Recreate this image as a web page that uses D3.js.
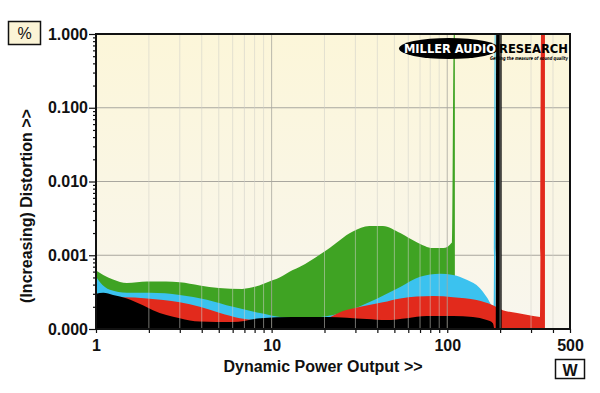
<!DOCTYPE html>
<html><head><meta charset="utf-8">
<script src="https://cdn.jsdelivr.net/npm/d3@7"></script>
<style>
html,body{margin:0;padding:0;background:#fff;}
svg{display:block;font-family:"Liberation Sans",Arial,sans-serif;}
</style></head>
<body><svg id="c" width="600" height="393"></svg>
<script>
// ---- data (power in W, distortion in %) ----
const greenW   = [1,1.1,1.25,1.5,1.95,2.5,3.0,3.9,5.0,6.8,8.5,10.2,11.1,13.2,14.5,20.6,29,36,43,54,67,83,95,106.5,109,110.5];
const greenPct = [0.00062,0.00054,0.00047,0.00042,0.00044,0.00044,0.00043,0.00039,0.00036,0.00035,0.00039,0.00046,0.0005,0.00063,0.0007,0.00118,0.0021,0.0025,0.0025,0.002,0.0015,0.00125,0.00125,0.0015,1,1];

const cyanW   = [1,1.054,1.2,1.5,2.03,3.0,4.28,6.03,8.58,11.2,14.5,22.4,29,40,54,70,91,108,130,153,168,184,186.5,188.5];
const cyanPct = [0.00051,0.00043,0.00034,0.00031,0.00031,0.00029,0.00025,0.0002,0.000165,0.000146,0.00014,0.000155,0.000187,0.00026,0.00037,0.00051,0.00056,0.00054,0.00046,0.00036,0.00027,0.0002,1,1];

const redW   = [1,1.42,1.95,3.0,3.9,5.08,6.6,7.84,9.8,14.5,20.6,25.5,32,43,54,83,108,147,182,207,250,309,338,342,360];
const redPct = [0.00025,0.00027,0.00026,0.00023,0.0002,0.000165,0.00014,0.000132,0.000128,0.000128,0.00014,0.000175,0.0002,0.00023,0.00026,0.00028,0.00027,0.000247,0.00021,0.00018,0.000165,0.00015,0.000146,1,1];

const blackW   = [1,1.1,1.25,1.5,1.85,2.11,3.0,3.9,6.0,8.6,13.2,20.6,34.8,45,59,76.5,108,140,168,182,186,189,190,204];
const blackPct = [0.0003,0.00031,0.00029,0.00026,0.00021,0.00018,0.00014,0.000126,0.000124,0.00014,0.000146,0.000146,0.000137,0.000132,0.00014,0.00015,0.00015,0.000146,0.000132,0.00012,0.0001,0.0001,1,1];

const xTickVals   = [1,10,100,500];
const xTickLabels = ["1","10","100","500"];
const yTickVals   = [1,0.1,0.01,0.001,0.0001];
const yTickLabels = ["1.000","0.100","0.010","0.001","0.000"];

const xTitle = "Dynamic Power Output >>";
const yTitle = "(Increasing) Distortion >>";
const yUnit = "%";
const xUnit = "W";

// ---- layout ----
const L = 96, R = 570, T = 34, B = 329;
const svg = d3.select("#c");
const x = d3.scaleLog().domain([1,500]).range([L,R]);
const y = d3.scaleLog().domain([0.0001,1]).range([B,T]).clamp(true);

// background gradient
const defs = svg.append("defs");
const grad = defs.append("linearGradient").attr("id","bg").attr("x1",0).attr("y1",0).attr("x2",0).attr("y2",1);
grad.append("stop").attr("offset","0%").attr("stop-color","#fcf6d9");
grad.append("stop").attr("offset","100%").attr("stop-color","#f8f6ee");
defs.append("clipPath").attr("id","clip").append("rect").attr("x",L).attr("y",T).attr("width",R-L).attr("height",B-T);

svg.append("rect").attr("x",L).attr("y",T).attr("width",R-L).attr("height",B-T).attr("fill","url(#bg)");

// minor values
const minorX = [];
[1,10,100].forEach(d=>{for(let k=2;k<=9;k++){const v=d*k; if(v<500) minorX.push(v);}});
const minorY = [];
[0.0001,0.001,0.01,0.1].forEach(d=>{for(let k=2;k<=9;k++) minorY.push(d*k);});

// horizontal major grid
svg.append("g").selectAll("line").data(yTickVals.slice(1,4)).join("line")
  .attr("x1",L).attr("x2",R).attr("y1",d=>y(d)).attr("y2",d=>y(d))
  .attr("stroke","#a9a79f").attr("stroke-width",1);

// areas
const plot = svg.append("g").attr("clip-path","url(#clip)");
function drawArea(ws, ps, color){
  const pts = ws.map((w,i)=>[w, ps[i]]);
  const area = d3.area().x(d=>x(d[0])).y0(B).y1(d=>y(d[1])).curve(d3.curveMonotoneX);
  plot.append("path").datum(pts).attr("d",area).attr("fill",color);
}
drawArea(greenW, greenPct, "#3fa323");
drawArea(cyanW, cyanPct, "#3bc2ef");
drawArea(redW, redPct, "#e22a1c");
drawArea(blackW, blackPct, "#000000");

// vertical grid (semi-transparent, over areas)
svg.append("g").selectAll("line").data(minorX).join("line")
  .attr("x1",d=>x(d)).attr("x2",d=>x(d)).attr("y1",T).attr("y2",B)
  .attr("stroke","#d0cfc8").attr("stroke-opacity",0.55).attr("stroke-width",1);
svg.append("g").selectAll("line").data([10,100]).join("line")
  .attr("x1",d=>x(d)).attr("x2",d=>x(d)).attr("y1",T).attr("y2",B)
  .attr("stroke","#a9a79f").attr("stroke-opacity",0.8).attr("stroke-width",1);

// frame
svg.append("rect").attr("x",L).attr("y",T).attr("width",R-L).attr("height",B-T)
  .attr("fill","none").attr("stroke","#111").attr("stroke-width",2);

// axes
const yAxis = d3.axisLeft(y).tickValues(yTickVals).tickFormat((d,i)=>yTickLabels[i]).tickSize(7).tickPadding(1);
const gy = svg.append("g").attr("transform",`translate(${L},0)`).call(yAxis);
const gyMinor = svg.append("g").attr("transform",`translate(${L},0)`).call(d3.axisLeft(y).tickValues(minorY).tickFormat("").tickSize(3));
const xAxis = d3.axisBottom(x).tickValues(xTickVals).tickFormat((d,i)=>xTickLabels[i]).tickSize(4).tickPadding(7);
const gx = svg.append("g").attr("transform",`translate(0,${B})`).call(xAxis);
const gxMinor = svg.append("g").attr("transform",`translate(0,${B})`).call(d3.axisBottom(x).tickValues(minorX).tickFormat("").tickSize(4));
[gy,gyMinor,gx,gxMinor].forEach(g=>{
  g.select(".domain").remove();
  g.selectAll("line").attr("stroke","#111").attr("stroke-width",1.2);
  g.selectAll("text").attr("fill","#111").attr("font-size",16).attr("font-weight","bold")
   .attr("font-family","'Liberation Sans',Arial,sans-serif");
});

// titles
svg.append("text").attr("x",323).attr("y",372).attr("text-anchor","middle")
  .attr("font-size",16).attr("font-weight","bold").attr("fill","#111").text(xTitle);
svg.append("text").attr("transform","translate(32,206) rotate(-90)").attr("text-anchor","middle")
  .attr("font-size",16).attr("font-weight","bold").attr("fill","#111").text(yTitle);

// unit boxes
svg.append("rect").attr("x",8.5).attr("y",21.5).attr("width",32).attr("height",23)
  .attr("fill","#fbf4d6").attr("stroke","#111").attr("stroke-width",1.5);
svg.append("text").attr("x",24.5).attr("y",39).attr("text-anchor","middle")
  .attr("font-size",16).attr("fill","#111").text(yUnit);
svg.append("rect").attr("x",555.5).attr("y",359.5).attr("width",29).attr("height",19)
  .attr("fill","#fff").attr("stroke","#111").attr("stroke-width",1.5);
svg.append("text").attr("x",570).attr("y",375.5).attr("text-anchor","middle")
  .attr("font-size",16).attr("font-weight","bold").attr("fill","#111").text(xUnit);

// logo
const logo = svg.append("g").attr("font-family","'DejaVu Sans',sans-serif");
logo.append("ellipse").attr("cx",449).attr("cy",48.5).attr("rx",50).attr("ry",10.5).attr("fill","#000");
logo.append("text").attr("x",404).attr("y",52.5).attr("font-size",12).attr("font-weight","bold")
  .attr("fill","#fff").attr("textLength",92).attr("lengthAdjust","spacingAndGlyphs").text("MILLER AUDIO");
logo.append("text").attr("x",499).attr("y",52.5).attr("font-size",12).attr("font-weight","bold")
  .attr("fill","#000").attr("textLength",69).attr("lengthAdjust","spacingAndGlyphs").text("RESEARCH");
logo.append("text").attr("x",490).attr("y",60).attr("font-size",5).attr("font-weight","bold").attr("font-style","italic")
  .attr("fill","#000").attr("textLength",78).attr("lengthAdjust","spacingAndGlyphs").text("Getting the measure of sound quality");
</script></body></html>
